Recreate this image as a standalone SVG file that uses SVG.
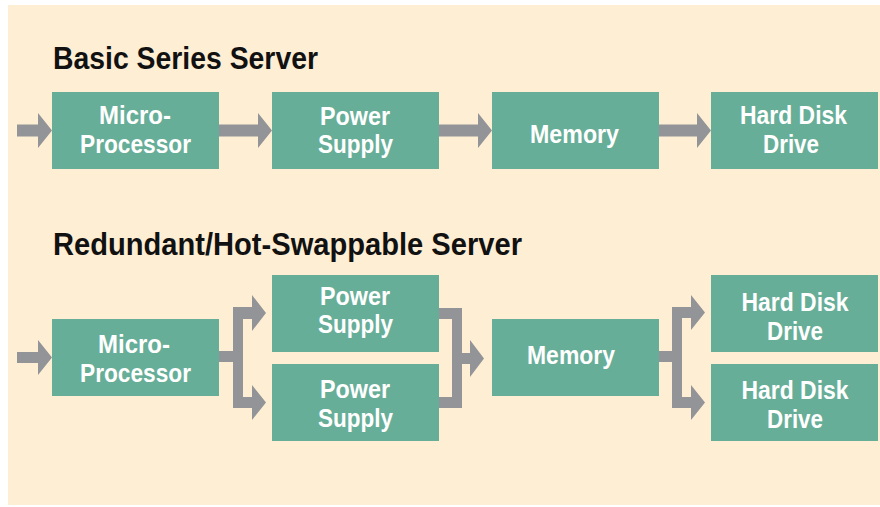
<svg xmlns="http://www.w3.org/2000/svg" width="880" height="507" viewBox="0 0 880 507">
<style>
.bg{fill:#FEEED4}
.node{fill:#66AE98}
.arr{fill:#929497}
.lbl{font-family:"Liberation Sans Narrow","Liberation Sans",Arial,sans-serif;font-weight:bold;font-size:26px;fill:#FFFFFF;text-anchor:middle}
.ttl{font-family:"Liberation Sans Narrow","Liberation Sans",Arial,sans-serif;font-weight:bold;font-size:31px;fill:#111111}
</style>
<rect width="880" height="507" fill="#FFFFFF"/>
<rect class="bg" x="8" y="5" width="872" height="500"/>
<text class="ttl" x="53" y="69" textLength="265" lengthAdjust="spacingAndGlyphs">Basic Series Server</text>
<text class="ttl" x="53" y="255" textLength="469" lengthAdjust="spacingAndGlyphs">Redundant/Hot-Swappable Server</text>
<g id="connectors">
<path class="arr" d="M17,124.5H38V113L52,130.5L38,148V136.5H17Z"/>
<path class="arr" d="M219,124.5H258V113L272,130.5L258,148V136.5H219Z"/>
<path class="arr" d="M439,124.5H478V113L492,130.5L478,148V136.5H439Z"/>
<path class="arr" d="M659,124.5H697V113L711,130.5L697,148V136.5H659Z"/>
<path class="arr" d="M17,352H38V340L52,357.5L38,375V363H17Z"/>
<path class="arr" d="M219,351H233V307H252V295L266,313L252,331V319H243V397H252V385L266,402.5L252,420V408H233V362H219Z"/>
<path class="arr" d="M439,308H462V353H470V340L484,358.5L470,377V364H462V408H439V397H452V319H439Z"/>
<path class="arr" d="M659,351H672V307H691V295L705,312.5L691,330V318H682V397H691V385L705,402.5L691,420V408H672V362H659Z"/>
</g>
<g id="b-mp"><rect class="node" x="52" y="92" width="167" height="77"/><text class="lbl" x="135" y="123.5" textLength="72" lengthAdjust="spacingAndGlyphs">Micro-</text><text class="lbl" x="135.5" y="153" textLength="111" lengthAdjust="spacingAndGlyphs">Processor</text></g>
<g id="b-ps"><rect class="node" x="272" y="92" width="167" height="77"/><text class="lbl" x="355" y="125" textLength="70" lengthAdjust="spacingAndGlyphs">Power</text><text class="lbl" x="355.5" y="153" textLength="75" lengthAdjust="spacingAndGlyphs">Supply</text></g>
<g id="b-mem"><rect class="node" x="492" y="92" width="167" height="77"/><text class="lbl" x="574.5" y="142.5" textLength="89" lengthAdjust="spacingAndGlyphs">Memory</text></g>
<g id="b-hdd"><rect class="node" x="711" y="92" width="167" height="77"/><text class="lbl" x="793.5" y="123.5" textLength="107" lengthAdjust="spacingAndGlyphs">Hard Disk</text><text class="lbl" x="791" y="152.5" textLength="56" lengthAdjust="spacingAndGlyphs">Drive</text></g>
<g id="r-mp"><rect class="node" x="52" y="319" width="167" height="77"/><text class="lbl" x="134" y="353" textLength="72" lengthAdjust="spacingAndGlyphs">Micro-</text><text class="lbl" x="135.5" y="382" textLength="111" lengthAdjust="spacingAndGlyphs">Processor</text></g>
<g id="r-ps1"><rect class="node" x="272" y="275" width="167" height="77"/><text class="lbl" x="355" y="305" textLength="70" lengthAdjust="spacingAndGlyphs">Power</text><text class="lbl" x="355.5" y="333" textLength="75" lengthAdjust="spacingAndGlyphs">Supply</text></g>
<g id="r-ps2"><rect class="node" x="272" y="364" width="167" height="77"/><text class="lbl" x="355" y="398" textLength="70" lengthAdjust="spacingAndGlyphs">Power</text><text class="lbl" x="355.5" y="427" textLength="75" lengthAdjust="spacingAndGlyphs">Supply</text></g>
<g id="r-mem"><rect class="node" x="492" y="319" width="167" height="77"/><text class="lbl" x="571" y="364" textLength="88" lengthAdjust="spacingAndGlyphs">Memory</text></g>
<g id="r-hdd1"><rect class="node" x="711" y="275" width="167" height="77"/><text class="lbl" x="795" y="311" textLength="107" lengthAdjust="spacingAndGlyphs">Hard Disk</text><text class="lbl" x="795" y="339.5" textLength="56" lengthAdjust="spacingAndGlyphs">Drive</text></g>
<g id="r-hdd2"><rect class="node" x="711" y="364" width="167" height="77"/><text class="lbl" x="795" y="399" textLength="107" lengthAdjust="spacingAndGlyphs">Hard Disk</text><text class="lbl" x="795" y="428" textLength="56" lengthAdjust="spacingAndGlyphs">Drive</text></g>
</svg>
